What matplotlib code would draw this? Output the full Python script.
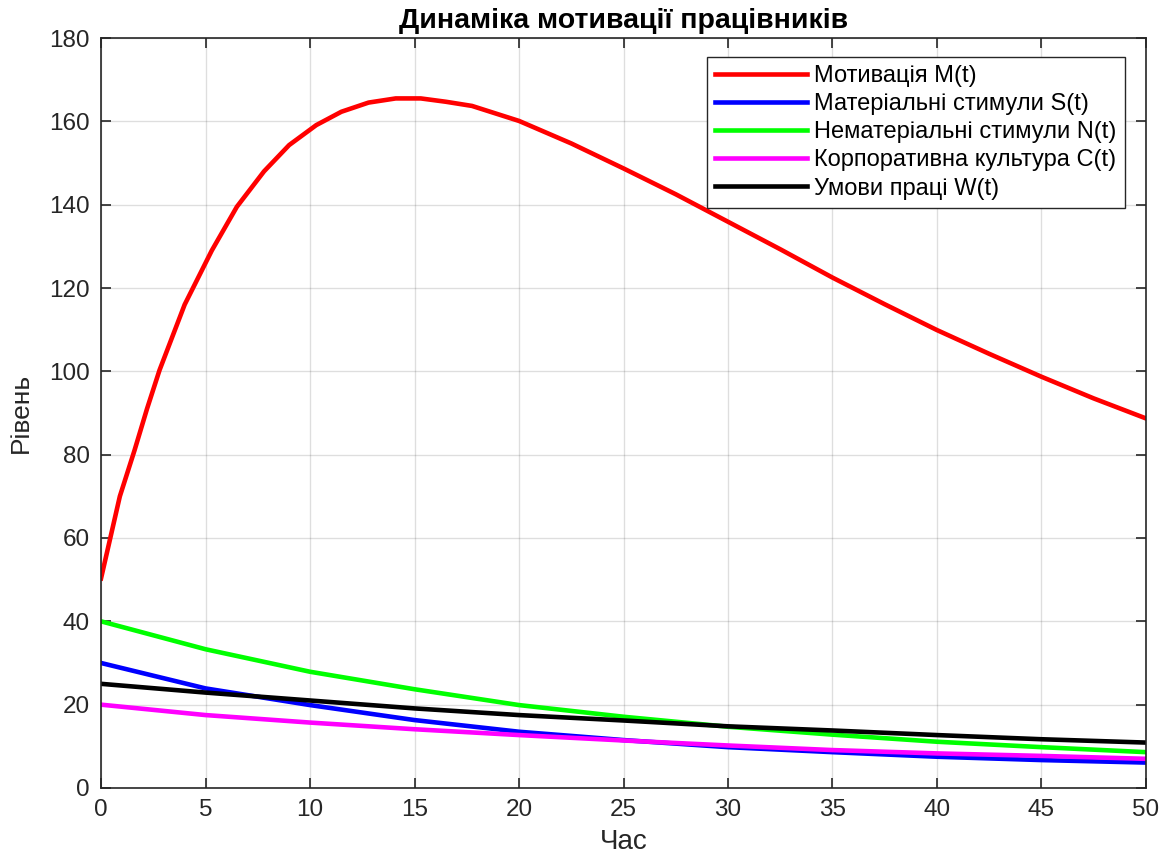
import matplotlib
matplotlib.use("Agg")
import matplotlib.pyplot as plt

plt.rcParams['font.family'] = ['Liberation Sans', 'DejaVu Sans']

# motivation M(t) (uneven steps)
t_m = [0, 0.9, 1.6, 2.2, 2.8, 4.0, 5.3, 6.5, 7.8, 9.0, 10.3, 11.5, 12.8, 14.1,
       15.3, 16.5, 17.75, 19, 20, 22.5, 25, 27.5, 30, 32.5, 35, 37.5, 40,
       42.5, 45, 47.5, 50]
M = [50.3, 70.0, 81.0, 91.0, 100.3, 116.0, 129.0, 139.5, 148.0, 154.3, 159.1,
     162.3, 164.5, 165.5, 165.5, 164.7, 163.7, 161.7, 160.1, 154.7, 148.7,
     142.5, 135.9, 129.3, 122.5, 116.1, 109.9, 104.2, 98.7, 93.5, 88.7]

# other factors, read every 5 time units
t = [0, 5, 10, 15, 20, 25, 30, 35, 40, 45, 50]
S = [30.0, 23.9, 19.9, 16.3, 13.5, 11.5, 9.8, 8.6, 7.5, 6.7, 6.1]
N = [40.0, 33.3, 27.9, 23.7, 19.9, 17.1, 14.7, 12.8, 11.1, 9.8, 8.6]
C = [20.0, 17.5, 15.7, 14.1, 12.7, 11.4, 10.2, 9.1, 8.3, 7.7, 7.0]
W = [25.0, 22.9, 21.0, 19.1, 17.5, 16.2, 14.8, 13.8, 12.7, 11.7, 10.9]

labels = ['Мотивація M(t)', 'Матеріальні стимули S(t)',
          'Нематеріальні стимули N(t)', 'Корпоративна культура C(t)',
          'Умови праці W(t)']
colors = ['#ff0000', '#0000ff', '#00ff00', '#ff00ff', '#000000']

axc = '#262626'

fig = plt.figure(figsize=(11.6, 8.58), dpi=100)
ax = fig.add_axes([0.0871, 0.0816, 0.9008, 0.8741])

ax.plot(t_m, M, color=colors[0], lw=3.3, label=labels[0])
for y, c, lab in zip([S, N, C, W], colors[1:], labels[1:]):
    ax.plot(t, y, color=c, lw=3.3, label=lab)

ax.set_xlim(0, 50)
ax.set_ylim(0, 180)
ax.set_xticks(range(0, 51, 5))
ax.set_yticks(range(0, 181, 20))
ax.grid(True, color=axc, alpha=0.15, lw=1)
ax.tick_params(direction='in', length=7, width=1.2, colors=axc,
               labelsize=17.5, top=True, right=True, pad=8)
for s in ax.spines.values():
    s.set_color(axc)
    s.set_linewidth(1.2)

ax.set_title('Динаміка мотивації працівників', fontsize=20.5, fontweight='bold',
             pad=7)
ax.set_xlabel('Час', fontsize=20, color=axc, labelpad=6)
ax.set_ylabel('Рівень', fontsize=19, color=axc, labelpad=12)

leg = ax.legend(loc='upper right', bbox_to_anchor=(0.980, 0.975),
                borderaxespad=0, fontsize=17, handlelength=3.9,
                handletextpad=0.3, labelspacing=0.26, fancybox=False,
                framealpha=1, edgecolor=axc, borderpad=0.35)
leg.get_frame().set_linewidth(1)

fig.savefig('out.png', dpi=100)
